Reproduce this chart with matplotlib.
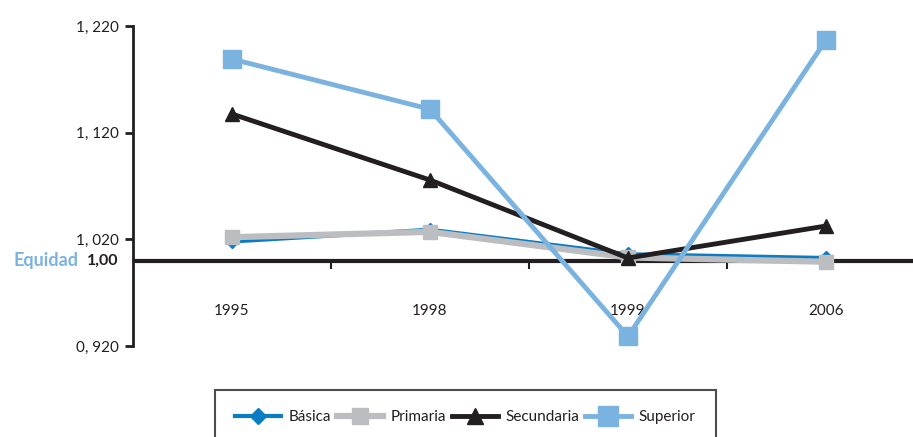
import matplotlib
matplotlib.use("Agg")
import matplotlib.pyplot as plt
from matplotlib.transforms import blended_transform_factory

plt.rcParams['font.family'] = ['Lato', 'DejaVu Sans']

years = ["1995", "1998", "1999", "2006"]
basica = [1.018, 1.029, 1.006, 1.0025]
primaria = [1.022, 1.027, 1.003, 0.999]
secundaria = [1.1375, 1.0756, 1.0025, 1.0325]
superior = [1.189, 1.142, 0.929, 1.207]
ytick_vals = [0.92, 1.02, 1.12, 1.22]
ytick_labels = ["0, 920", "1, 020", "1, 120", "1, 220"]

dark = "#231f20"

fig = plt.figure(figsize=(9.13, 4.37), dpi=100)
ax = fig.add_axes([133 / 913, 1 - 346 / 437, 780 / 913, 320 / 437])
x = list(range(len(years)))

# series, drawn in legend order
ax.plot(x, basica, color="#0a7cc4", lw=3, marker="D", ms=7, label="Básica", zorder=3)
ax.plot(x, primaria, color="#bcbdc0", lw=4.5, marker="s", ms=10, label="Primaria", zorder=4)
ax.plot(x, secundaria, color=dark, lw=3.5, marker="^", ms=10, label="Secundaria", zorder=5)
ax.plot(x, superior, color="#7ab3e0", lw=3.5, marker="s", ms=13, label="Superior", zorder=6)

# equity line at 1.00 with category separators
ax.axhline(1.0, color=dark, lw=3, zorder=2)
for b in [0.5, 1.5, 2.5]:
    ax.plot([b, b], [1.0, 0.993], color=dark, lw=1.5, zorder=2)
for xi, yr in zip(x, years):
    ax.text(xi, 0.953, yr, ha="center", va="center", fontsize=11, color=dark)

ax.set_xlim(-0.5, -0.5 + 780 / 198)
ax.set_ylim(0.92, 1.22)
ax.set_xticks([])
ax.set_yticks(ytick_vals)
ax.set_yticklabels(ytick_labels, fontsize=11, color=dark)
ax.tick_params(axis="y", direction="out", length=6, width=2, color=dark, pad=4)
for s in ["top", "right", "bottom"]:
    ax.spines[s].set_visible(False)
ax.spines["left"].set_linewidth(2)
ax.spines["left"].set_color(dark)
ax.patch.set_alpha(0)

tr = blended_transform_factory(fig.transFigure, ax.transData)
ax.text(78 / 913, 1.0, "Equidad", transform=tr, ha="right", va="center",
        fontsize=13, fontweight="bold", color="#7ab3e0")
ax.text(118 / 913, 1.0, "1,00", transform=tr, ha="right", va="center",
        fontsize=11.5, fontweight="bold", color=dark)

leg = fig.legend(loc="upper left", bbox_to_anchor=(215 / 913, 1 - 390 / 437), ncol=4,
                 frameon=True, fancybox=False, fontsize=11, handlelength=3,
                 columnspacing=0.4, handletextpad=0.5, borderpad=1.3, borderaxespad=0,
                 markerscale=1.15)
leg.get_frame().set_edgecolor(dark)
leg.get_frame().set_linewidth(1.5)
for t in leg.get_texts():
    t.set_color(dark)

fig.savefig("out.png", dpi=100)
